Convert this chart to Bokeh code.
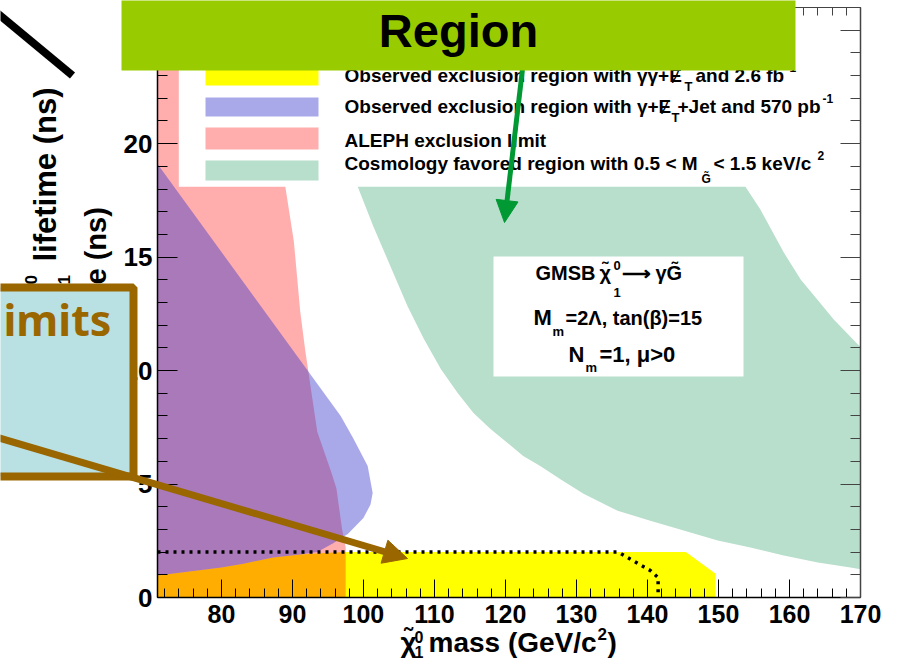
import math
from bokeh.plotting import figure
from bokeh.models import (Range1d, LinearAxis, SingleIntervalTicker, BoxAnnotation,
                          Label, Arrow, NormalHead, CustomJSTickFormatter)
from bokeh.embed import file_html
from bokeh.resources import INLINE

# ---------------- data ----------------
mass_range = (71, 170)          # neutralino mass, GeV/c^2
lifetime_range = (0, 26)        # lifetime, ns
x_tick_interval = 10
y_tick_interval = 5

# Cosmology favored region with 0.5 < M_G < 1.5 keV/c^2
cosmo_mass = [99.2, 101.4, 103.8, 106.2, 108.5, 110.9, 113.3, 115.5, 117.9, 120.3, 122.5,
              124.9, 127.8, 131.0, 135.8, 140.4, 145.1, 149.9, 154.5, 159.2, 164.0, 168.6,
              170.0, 170.0, 169.6, 166.2, 164.0, 161.6, 159.2, 155.9, 153.8]
cosmo_tau = [18.1, 16.35, 14.6, 12.85, 11.4, 10.07, 9.0, 8.13, 7.43, 6.81, 6.24,
             5.8, 5.2, 4.57, 3.82, 3.38, 2.95, 2.51, 2.2, 1.85, 1.54, 1.32,
             1.25, 11.05, 11.16, 12.26, 13.1, 14.0, 15.2, 17.1, 18.1]

# Observed exclusion region, gamma + MET + jet, 570 pb^-1 (visible part)
jet_mass = [71.0, 71.0, 96.8, 98.6, 100.6, 101.3, 101.0, 100.0, 97.8, 95.8, 93.5,
            91.1, 87.3, 83.1, 80.0, 71.0]
jet_tau = [0.97, 19.1, 8.0, 7.0, 5.8, 4.6, 4.1, 3.5, 2.8, 2.4, 2.0,
           1.89, 1.76, 1.49, 1.32, 0.97]

# Observed exclusion region, gamma gamma + MET, 2.6 fb^-1
gg_mass = [71.0, 71.0, 80.0, 83.1, 87.3, 91.1, 95.8, 98.0, 145.4, 149.6, 149.6]
gg_tau = [0.0, 0.97, 1.32, 1.49, 1.76, 1.89, 1.98, 2.0, 2.0, 1.05, 0.0]

# ALEPH exclusion limit
aleph_mass = [71.0, 71.0, 74.0, 74.0, 89.0, 90.2, 91.1, 91.8, 93.5, 95.5, 96.2, 97.0, 97.5, 97.5]
aleph_tau = [0.0, 26.0, 26.0, 18.1, 18.1, 15.7, 12.6, 10.9, 7.3, 5.5, 4.8, 3.0, 2.2, 0.0]

# expected limit (dotted)
exp_mass = [71.0, 135.9, 140.4, 141.5, 141.5]
exp_tau = [2.0, 2.0, 1.19, 0.88, 0.0]

legend_main = ["Observed exclusion region with \u03b3\u03b3+\u0246",
               "Observed exclusion region with \u03b3+\u0246",
               "ALEPH exclusion limit",
               "Cosmology favored region with 0.5 < M"]

# ---------------- layout helpers ----------------
W, H = 904, 663
FL, FR, FT, FB = 157, 860, 7, 597      # frame edges in page pixels
BASE_K = 0.38                          # baseline correction (fraction of font size)


def dx(px):
    return mass_range[0] + (px - FL) * (mass_range[1] - mass_range[0]) / (FR - FL)


def dy(py):
    return lifetime_range[0] + (FB - py) * (lifetime_range[1] - lifetime_range[0]) / (FB - FT)


p = figure(width=W, height=H, x_range=Range1d(*mass_range), y_range=Range1d(*lifetime_range),
           output_backend="svg", toolbar_location=None,
           min_border_left=FL, min_border_right=W - FR,
           min_border_top=FT, min_border_bottom=H - FB)
p.xgrid.visible = False
p.ygrid.visible = False
p.outline_line_color = None
p.background_fill_color = "white"
p.border_fill_color = "white"

BLUE, BLUE_A = "#3333CC", 0.42
RED, RED_A = "#FF0000", 0.32
GREEN = "#B8DECC"
YELLOW = "#FFFF00"

p.patch(cosmo_mass, cosmo_tau, fill_color=GREEN, line_color=None)
p.patch(gg_mass, gg_tau, fill_color=YELLOW, line_color=None)
p.patch(aleph_mass, aleph_tau, fill_color=RED, fill_alpha=RED_A, line_color=None)
p.patch(jet_mass, jet_tau, fill_color=BLUE, fill_alpha=BLUE_A, line_color=None)
p.line(exp_mass, exp_tau, line_color="black", line_width=3.5, line_dash="3 5")

# ---------------- axes ----------------
xa = p.xaxis[0]
ya = p.yaxis[0]
xa.ticker = SingleIntervalTicker(interval=x_tick_interval, num_minor_ticks=5)
ya.ticker = SingleIntervalTicker(interval=y_tick_interval, num_minor_ticks=5)
for ax in (xa, ya):
    ax.major_label_text_font = "Liberation Sans"
    ax.major_label_text_font_style = "bold"
    ax.major_label_text_color = "black"
    ax.major_tick_out = 0
    ax.minor_tick_out = 0
    ax.axis_line_color = "black"
    ax.axis_line_width = 1.5
    ax.major_tick_line_color = "black"
    ax.minor_tick_line_color = "black"
xa.major_tick_in = 18
xa.minor_tick_in = 9
xa.major_label_text_font_size = "25px"
xa.major_label_standoff = 7
ya.major_tick_in = 20
ya.minor_tick_in = 10
ya.major_label_text_font_size = "26px"
ya.major_label_standoff = 5

ra = LinearAxis(ticker=SingleIntervalTicker(interval=y_tick_interval, num_minor_ticks=5),
                formatter=CustomJSTickFormatter(code="return ''"),
                major_tick_in=20, major_tick_out=0, minor_tick_in=10, minor_tick_out=0,
                major_label_standoff=0, axis_line_color="#444444", axis_line_width=1.5,
                major_tick_line_color="#444444", minor_tick_line_color="#444444")
p.add_layout(ra, "right")
ta = LinearAxis(ticker=SingleIntervalTicker(interval=x_tick_interval, num_minor_ticks=5),
                formatter=CustomJSTickFormatter(code="return ''"),
                major_tick_in=16, major_tick_out=0, minor_tick_in=8, minor_tick_out=0,
                major_label_standoff=0, axis_line_color="#444444",
                major_tick_line_color="#444444", minor_tick_line_color="#444444")
p.add_layout(ta, "above")


def box(l, r, t, b, fill, alpha=1.0):
    p.add_layout(BoxAnnotation(left=dx(l), right=dx(r), top=dy(t), bottom=dy(b),
                               fill_color=fill, fill_alpha=alpha, line_color=None))


def label(text, px, py, size, align="left", style="bold", font="Liberation Sans"):
    p.add_layout(Label(x=dx(px), y=dy(py - BASE_K * size), text=text, text_font=font,
                       text_font_size=f"{size}px", text_font_style=style,
                       text_color="black", text_align=align, text_baseline="alphabetic"))


# ---------------- legend ----------------
box(205, 318, 64, 85, YELLOW)
box(205, 318, 97, 116, BLUE, BLUE_A)
box(205, 318, 127, 149, RED, RED_A)
box(205, 318, 160, 180, GREEN)

label(legend_main[0], 344, 82, 19)
label("T", 684, 91, 13)
label("and 2.6 fb", 695, 82, 19)
label("-1", 785, 72, 12)
label(legend_main[1], 344, 113, 19)
label("T", 671, 122, 13)
label("+Jet and 570 pb", 677, 113, 19)
label("-1", 822, 103, 12)
label(legend_main[2], 344, 147, 19)
label(legend_main[3], 344, 170, 19)
label("G\u0303", 701, 183, 12)
label("< 1.5 keV/c", 713, 170, 19)
label("2", 817, 160, 12)

# ---------------- model text box ----------------
box(493, 743, 256, 376, "white")
label("GMSB", 535, 280, 20)
label("\u03c7\u0303", 599, 280, 20)
label("0", 613, 270, 13)
label("1", 613, 297, 13)
label("\u27f6", 621, 280, 20)
label("\u03b3G\u0303", 655, 280, 20)
label("M", 533, 325, 22)
label("m", 552, 336, 13)
label("=2\u039b, tan(\u03b2)=15", 565, 325, 20)
label("N", 568, 362, 22)
label("m", 585, 372, 13)
label("=1, \u03bc>0", 599, 362, 22)

# ---------------- overlay (slide decorations drawn above the whole chart) ----------------
q = figure(width=W, height=H, x_range=Range1d(0, W), y_range=Range1d(H, 0),
           output_backend="svg", toolbar_location=None,
           x_axis_location=None, y_axis_location=None,
           min_border_left=0, min_border_right=0, min_border_top=0, min_border_bottom=0)
q.grid.visible = False
q.outline_line_color = None
q.background_fill_alpha = 0
q.border_fill_alpha = 0
q.styles = {"position": "absolute", "left": "0px", "top": "0px"}


def qlabel(text, x, y, size, align="left", font="Liberation Sans", color="black", angle=0.0):
    if angle:
        x = x - BASE_K * size
    else:
        y = y - BASE_K * size
    q.add_layout(Label(x=x, y=y, text=text, text_font=font, text_font_size=f"{size}px",
                       text_font_style="bold", text_color=color, text_align=align,
                       text_baseline="alphabetic", angle=angle))


def qbox(l, r, t, b, fill, line=None, lw=1):
    q.add_layout(BoxAnnotation(left=l, right=r, top=t, bottom=b, fill_color=fill,
                               fill_alpha=1.0, line_color=line, line_width=lw, line_alpha=1.0))


# x axis title
qlabel("\u03c7\u0303", 400, 653, 28)
qlabel("0", 414, 643, 16)
qlabel("1", 414, 658, 16)
qlabel("mass (GeV/c", 428, 653, 28)
qlabel("2", 597, 640, 17)
qlabel(")", 607, 653, 28)

# left-over titles from the slide below the box
qlabel("lifetime (ns)", 57, 261, 31, angle=math.pi / 2)
qlabel("0", 37, 284, 17, angle=math.pi / 2)
qlabel("1", 70, 284, 17, angle=math.pi / 2)
qlabel("e (ns)", 107, 284, 29, angle=math.pi / 2)

qbox(-30, 133, 287, 476, "#B9E0E3", line="#996600", lw=8)
qlabel("imits", 3, 335, 43, font="Noto Sans", color="#996600")

q.add_layout(Arrow(end=NormalHead(size=24, fill_color="#996600", line_color="#996600"),
                   x_start=-20, y_start=432, x_end=407, y_end=558,
                   line_color="#996600", line_width=7))
q.add_layout(Arrow(end=None, x_start=-10, y_start=7, x_end=72, y_end=75,
                   line_color="black", line_width=8))
q.add_layout(Arrow(end=NormalHead(size=22, fill_color="#009933", line_color="#009933"),
                   x_start=523, y_start=60, x_end=504, y_end=222,
                   line_color="#009933", line_width=5))

qbox(121, 795, -20, 70, "#99CC00")
qlabel("Region", 458, 48, 47, align="center", font="Liberation Sans")

open("out.html", "w").write(file_html([p, q], INLINE))
